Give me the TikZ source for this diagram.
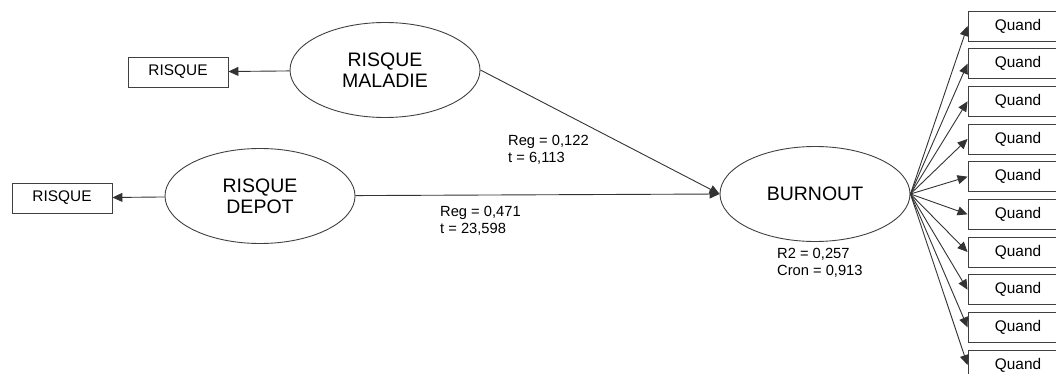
\documentclass[tikz,border=0pt]{standalone}
\usepackage{fontspec}
\setmainfont{Liberation Sans}
\usetikzlibrary{shapes.geometric}
\usetikzlibrary{arrows.meta}

\begin{document}
\begin{tikzpicture}[x=1pt,y=-1pt,
    latent/.style={ellipse,draw=black!75,line width=0.9pt,minimum width=190pt,minimum height=95pt,inner sep=0pt,align=center,font=\fontsize{19.5}{20.7}\selectfont},
    indic/.style={rectangle,draw=black!75,line width=0.9pt,minimum width=100pt,minimum height=30pt,inner sep=0pt,font=\fontsize{15.4}{18}\selectfont},
    stat/.style={anchor=west,align=left,inner sep=0pt,font=\fontsize{14.7}{17}\selectfont},
    link/.style={draw=black!80,line width=0.9pt,-{Triangle[length=10pt,width=9pt]}}]
    \useasboundingbox (0,0) rectangle (1056,374);
    \clip (0,0) rectangle (1056,374);
    \node[latent] (mal) at (385,70) {RISQUE\\MALADIE};
    \node[latent] (dep) at (260,196) {RISQUE\\DEPOT};
    \node[latent] (burn) at (815,194) {BURNOUT};
    \node[indic] (rm) at (178,72) {RISQUE};
    \node[indic] (rd) at (62,198) {RISQUE};
    \draw[link] (mal) -- (rm);
    \draw[link] (dep) -- (rd);
    \draw[link] (mal.east) -- (burn.west);
    \draw[link] (dep) -- (burn.west);
    \node[stat] (regm) at (508,150) {Reg = 0,122\\t = 6,113};
    \node[stat] (regd) at (440,221) {Reg = 0,471\\t = 23,598};
    \node[stat] (rel) at (777,263) {R2 = 0,257\\Cron = 0,913};
    % indicateurs du burnout
    \node[indic] (q1) at (1018,26) {Quand};
    \node[indic] (q2) at (1018,63.7) {Quand};
    \node[indic] (q3) at (1018,101.3) {Quand};
    \node[indic] (q4) at (1018,139) {Quand};
    \node[indic] (q5) at (1018,176.7) {Quand};
    \node[indic] (q6) at (1018,214.3) {Quand};
    \node[indic] (q7) at (1018,252) {Quand};
    \node[indic] (q8) at (1018,289.7) {Quand};
    \node[indic] (q9) at (1018,327.3) {Quand};
    \node[indic] (q10) at (1018,365) {Quand};
    \draw[link] (burn.east) -- (q1.west);
    \draw[link] (burn.east) -- (q2.west);
    \draw[link] (burn.east) -- (q3.west);
    \draw[link] (burn.east) -- (q4.west);
    \draw[link] (burn.east) -- (q5.west);
    \draw[link] (burn.east) -- (q6.west);
    \draw[link] (burn.east) -- (q7.west);
    \draw[link] (burn.east) -- (q8.west);
    \draw[link] (burn.east) -- (q9.west);
    \draw[link] (burn.east) -- (q10.west);
  \end{tikzpicture}
\end{document}
